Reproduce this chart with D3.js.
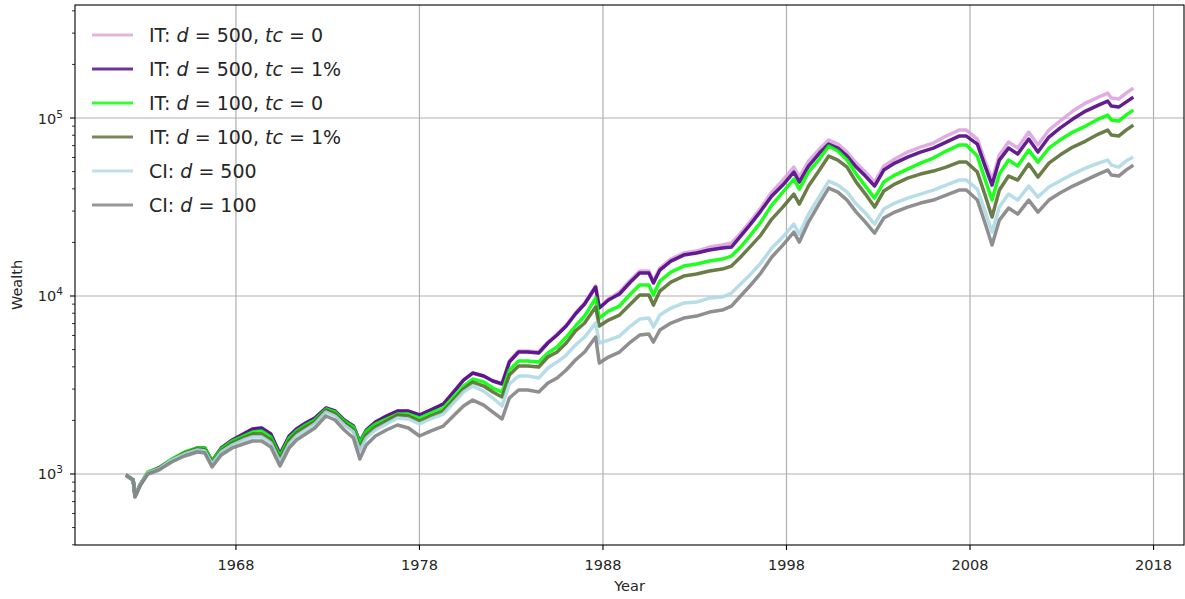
<!DOCTYPE html>
<html><head><meta charset="utf-8">
<script src="https://cdn.jsdelivr.net/npm/d3@7"></script>
<style>
html,body{margin:0;padding:0;background:#fff;}
svg{display:block;font-family:"DejaVu Sans",sans-serif;}
</style></head>
<body>
<svg id="chart" width="1185" height="599"></svg>
<script>
const years = [1962.0,1962.4,1962.5,1962.8,1963.2,1963.8,1964.5,1965.2,1965.9,1966.3,1966.7,1967.2,1967.8,1968.4,1968.9,1969.4,1969.9,1970.4,1970.9,1971.3,1971.8,1972.3,1972.9,1973.4,1973.9,1974.4,1974.75,1975.1,1975.6,1976.2,1976.8,1977.4,1978.0,1978.6,1979.3,1979.9,1980.4,1980.9,1981.5,1982.0,1982.5,1982.9,1983.4,1983.9,1984.5,1985.0,1985.5,1986.0,1986.5,1987.0,1987.6,1987.8,1988.3,1988.9,1989.5,1990.0,1990.5,1990.75,1991.1,1991.7,1992.4,1993.1,1993.8,1994.5,1995.0,1995.5,1996.0,1996.6,1997.2,1997.8,1998.4,1998.7,1999.2,1999.8,2000.3,2000.8,2001.3,2001.8,2002.3,2002.8,2003.3,2003.9,2004.6,2005.3,2006.0,2006.7,2007.4,2007.8,2008.4,2008.8,2009.2,2009.6,2010.1,2010.6,2011.2,2011.7,2012.3,2012.9,2013.6,2014.3,2015.0,2015.5,2015.7,2016.1,2016.5,2016.9];

const it500tc0 = [987,925,752,879,1013,1081,1198,1312,1400,1400,
1183,1400,1552,1677,1789,1812,1677,1295,1635,1789,
1934,2063,2347,2258,2010,1860,1513,1766,1959,2117,
2258,2258,2145,2287,2472,2924,3372,3691,3551,3329,
3244,4311,4906,4906,4843,5512,6113,6867,8020,9128,
11373,8667,9613,10524,12291,13809,13809,12133,14355,16127,
17428,17885,18835,19327,19835,22574,26026,31192,38363,44805,
53011,46579,57289,66907,75167,71377,64360,55823,49690,43661,
53699,58788,64360,68663,72306,79157,85546,85546,76145,58033,
44805,61907,73247,67778,83361,70456,85546,96111,109383,121302,
131097,138052,129409,127745,138052,147278];

const it500tc1 = [987,925,752,879,1013,1081,1198,1312,1400,1400,
1183,1400,1552,1677,1789,1812,1677,1295,1635,1789,
1934,2063,2347,2258,2010,1860,1513,1766,1959,2117,
2258,2258,2145,2287,2472,2924,3372,3691,3551,3329,
3202,4256,4843,4843,4780,5441,6034,6779,7917,9011,
11227,8556,9489,10255,11977,13456,13456,11823,13988,15716,
16982,17428,18117,18592,18835,21714,25034,30006,36428,41997,
49690,43661,53699,63532,71377,67778,61114,53011,47183,41459,
50992,55823,60331,64360,67778,73247,79157,79157,71377,54396,
41997,58033,67778,62717,76145,64360,78143,87789,98626,109383,
118200,124487,116685,115190,122882,131097];

const it100tc0 = [987,925,752,879,1026,1081,1214,1329,1400,1400,
1183,1382,1532,1635,1721,1743,1614,1262,1593,1743,
1884,2010,2317,2229,1985,1836,1493,1743,1909,2037,
2172,2172,2063,2200,2347,2741,3120,3416,3286,3040,
2887,3838,4311,4311,4256,4780,5166,5880,6779,7715,
9738,7518,8231,8780,10255,11521,11521,10123,12133,13631,
14731,15117,15716,16127,16765,18835,21714,26026,32425,38363,
45388,39881,49690,58788,69553,65201,58033,48421,41459,35499,
43661,47796,51656,55823,59554,65201,70456,70456,61114,45979,
34592,48421,58033,53699,66047,56551,67778,75167,83361,90087,
98626,103858,97359,96111,103858,110803];

const it100tc1 = [987,925,752,879,1013,1081,1198,1312,1382,1364,
1153,1346,1493,1593,1677,1677,1552,1214,1532,1699,
1836,1959,2287,2172,1934,1766,1400,1656,1836,1985,
2145,2117,1985,2117,2258,2637,3001,3286,3120,2887,
2706,3597,4041,4041,3989,4540,4843,5441,6355,7047,
8667,6779,7326,7815,9011,10123,10123,8894,10661,11977,
12943,13283,13809,14170,14731,16550,18835,21996,27055,31599,
37384,32848,41459,50992,61114,58033,53011,43661,37384,31599,
38864,42546,45979,48421,50339,53011,56551,56551,49690,37384,
27765,39369,47183,44805,55107,46579,55823,61907,68663,74204,
81233,85546,80185,79157,85546,91257];

const ci500 = [987,925,752,879,1013,1067,1198,1295,1364,1346,
1138,1329,1455,1552,1614,1614,1493,1168,1474,1635,
1766,1909,2229,2117,1884,1721,1346,1593,1766,1909,
2063,2037,1909,2037,2172,2537,2887,3120,2924,2671,
2409,3202,3551,3551,3460,3938,4256,4659,5301,5880,
7047,5441,5656,5956,6779,7422,7518,6693,7815,8556,
9128,9247,9738,9865,10388,11671,13111,15314,18592,21436,
25361,22284,28863,36428,44231,41997,38363,32848,29238,25361,
30791,33275,35499,37384,39369,41997,44805,44805,39881,30396,
22868,31599,37384,34592,41459,35962,40928,44231,48421,52329,
55823,58033,54396,53011,57289,60331];

const ci100 = [987,925,742,867,1000,1053,1168,1262,1329,1312,
1095,1278,1400,1474,1532,1532,1418,1109,1400,1552,
1677,1812,2117,2010,1766,1593,1214,1455,1635,1766,
1884,1812,1635,1743,1860,2145,2409,2603,2440,2229,
2037,2671,2962,2962,2887,3244,3460,3838,4367,4843,
5880,4201,4540,4843,5512,6034,6113,5512,6438,7047,
7518,7715,8124,8337,8780,10000,11373,13456,16550,19327,
22868,20093,26026,33275,40401,38363,34592,29619,26026,22574,
27408,29619,31599,33275,34592,36901,39369,39369,34592,26026,
19327,26708,31192,28863,34592,29619,34592,37870,41459,44805,
48421,50992,47796,47183,50992,54396];

const xTicks = [1968,1978,1988,1998,2008,2018];
const yTicks = [1e3,1e4,1e5];
const yTickExp = ["3","4","5"];

const seriesNames = [
  {pre:"IT: ", parts:[["d",true],[" = 500, ",false],["tc",true],[" = 0",false]]},
  {pre:"IT: ", parts:[["d",true],[" = 500, ",false],["tc",true],[" = 1%",false]]},
  {pre:"IT: ", parts:[["d",true],[" = 100, ",false],["tc",true],[" = 0",false]]},
  {pre:"IT: ", parts:[["d",true],[" = 100, ",false],["tc",true],[" = 1%",false]]},
  {pre:"CI: ", parts:[["d",true],[" = 500",false]]},
  {pre:"CI: ", parts:[["d",true],[" = 100",false]]}
];
const seriesValues = [it500tc0, it500tc1, it100tc0, it100tc1, ci500, ci100];
const seriesColors = ["plum","indigo","lime","darkolivegreen","lightblue","gray"];

const svg = d3.select("#chart");
const L=75, R=1184, T=5, B=545;
const x = d3.scaleLinear().domain([1959.23, 2019.66]).range([L,R]);
const y = d3.scaleLog().domain([399, 431500]).range([B,T]);

// grid
const grid = svg.append("g");
grid.selectAll("line.gx").data(xTicks).join("line")
  .attr("x1",d=>x(d)).attr("x2",d=>x(d)).attr("y1",T).attr("y2",B)
  .attr("stroke","#b0b0b0").attr("stroke-width",1.2);
grid.selectAll("line.gy").data(yTicks).join("line")
  .attr("x1",L).attr("x2",R).attr("y1",d=>y(d)).attr("y2",d=>y(d))
  .attr("stroke","#b0b0b0").attr("stroke-width",1.2);

// lines
svg.append("clipPath").attr("id","clip").append("rect").attr("x",L).attr("y",T).attr("width",R-L).attr("height",B-T);
const line = d3.line().x((d,i)=>x(years[i])).y(d=>y(d));
const lg = svg.append("g").attr("clip-path","url(#clip)");
seriesValues.forEach((vals,k)=>{
  lg.append("path").datum(vals).attr("d",line)
    .attr("fill","none").attr("stroke",seriesColors[k])
    .attr("stroke-opacity",0.88).attr("stroke-width",3.5)
    .attr("stroke-linejoin","round");
});

// axes frame
svg.append("rect").attr("x",L).attr("y",T).attr("width",R-L).attr("height",B-T)
  .attr("fill","none").attr("stroke","#000").attr("stroke-width",1.1);

// x ticks
const xg = svg.append("g");
xTicks.forEach(t=>{
  xg.append("line").attr("x1",x(t)).attr("x2",x(t)).attr("y1",B).attr("y2",B+5)
    .attr("stroke","#000").attr("stroke-width",1.1);
  xg.append("text").attr("x",x(t)).attr("y",B+25).attr("text-anchor","middle")
    .attr("font-size",14.5).attr("fill","#262626").text(t);
});

// y ticks major
const yg = svg.append("g");
yTicks.forEach((t,i)=>{
  yg.append("line").attr("x1",L-5).attr("x2",L).attr("y1",y(t)).attr("y2",y(t))
    .attr("stroke","#000").attr("stroke-width",1.1);
  const tx = yg.append("text").attr("x",L-12).attr("y",y(t)+5.5).attr("text-anchor","end")
    .attr("font-size",14.5).attr("fill","#262626");
  tx.append("tspan").text("10");
  tx.append("tspan").attr("font-size",10.5).attr("dy",-6).text(yTickExp[i]);
});
// minor ticks
const [y0,y1] = y.domain();
for(let e=2;e<=5;e++){
  for(let m=2;m<=9;m++){
    const v=m*Math.pow(10,e);
    if(v>=y0 && v<=y1){
      yg.append("line").attr("x1",L-3).attr("x2",L).attr("y1",y(v)).attr("y2",y(v))
        .attr("stroke","#000").attr("stroke-width",0.8);
    }
  }
}

// axis labels
svg.append("text").attr("x",(L+R)/2).attr("y",591).attr("text-anchor","middle")
  .attr("font-size",14.5).attr("fill","#262626").text("Year");
svg.append("text").attr("transform",`translate(22,${(T+B)/2+10}) rotate(-90)`)
  .attr("text-anchor","middle").attr("font-size",14.5).attr("fill","#262626").text("Wealth");

// legend
const leg = svg.append("g");
seriesNames.forEach((s,k)=>{
  const yy = 35 + k*34;
  leg.append("line").attr("x1",92).attr("x2",133).attr("y1",yy).attr("y2",yy)
    .attr("stroke",seriesColors[k]).attr("stroke-opacity",0.8).attr("stroke-width",3);
  const t = leg.append("text").attr("x",149).attr("y",yy+6.8).attr("font-size",19).attr("fill","#262626")
    .attr("xml:space","preserve").style("white-space","pre");
  t.append("tspan").text(s.pre);
  s.parts.forEach(p=>{
    t.append("tspan").attr("font-style",p[1]?"italic":"normal").text(p[0]);
  });
});
</script>
</body></html>
